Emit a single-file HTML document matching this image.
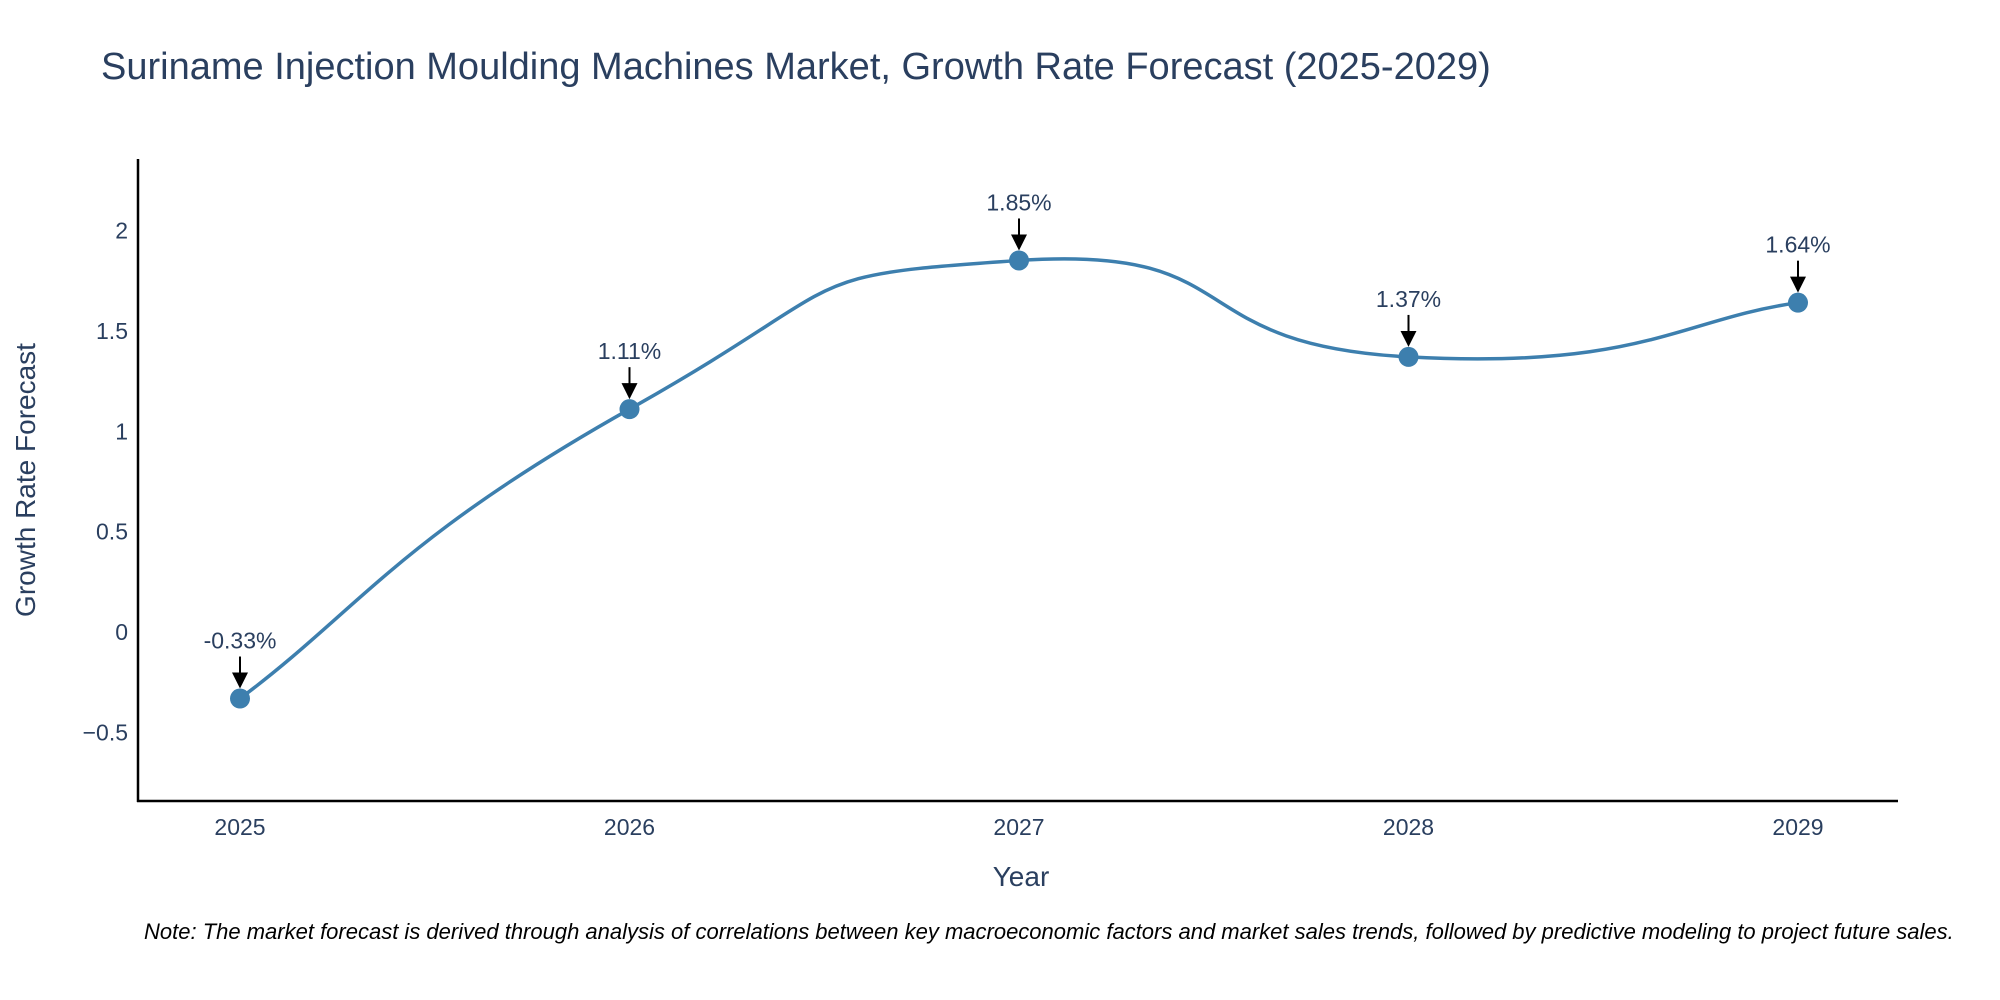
<!DOCTYPE html>
<html><head><meta charset="utf-8"><style>
body{margin:0;background:#fff;}
svg{display:block;font-family:"Liberation Sans",sans-serif;}
</style></head><body>
<svg id="chart" width="2000" height="1000" viewBox="0 0 2000 1000">
<text x="101" y="79" font-size="38" fill="#2a3f5f">Suriname Injection Moulding Machines Market, Growth Rate Forecast (2025-2029)</text>
<g id="yticks"></g><g id="xticks"></g>
<line x1="138" y1="159" x2="138" y2="802" stroke="#000" stroke-width="2.5"/>
<line x1="137" y1="801" x2="1898" y2="801" stroke="#000" stroke-width="2.5"/>
<g id="series"></g><g id="annots"></g>
<text x="1021" y="886" font-size="28" fill="#2a3f5f" text-anchor="middle">Year</text>
<text transform="translate(35,480) rotate(-90)" font-size="28" fill="#2a3f5f" text-anchor="middle">Growth Rate Forecast</text>
<text x="144" y="939" font-size="22" font-style="italic" fill="#000">Note: The market forecast is derived through analysis of correlations between key macroeconomic factors and market sales trends, followed by predictive modeling to project future sales.</text>
<defs><marker id="ah" markerWidth="8" markerHeight="8" refX="6" refY="4" orient="auto" markerUnits="strokeWidth"><path d="M0,0 L8,4 L0,8 z" fill="#000"/></marker></defs>
</svg>
<script>
const years=["2025","2026","2027","2028","2029"];
const values=[-0.33,1.11,1.85,1.37,1.64];
const labels=["-0.33%","1.11%","1.85%","1.37%","1.64%"];
const yTicks=[-0.5,0,0.5,1,1.5,2];
const yTickLabels=["\u22120.5","0","0.5","1","1.5","2"];
const NS="http://www.w3.org/2000/svg";
const x0=240,x1=1798,yMin=-0.84,yMax=2.355,plotTop=159,plotBot=801;
const X=i=>x0+(x1-x0)*i/(years.length-1);
const Y=v=>plotBot-(v-yMin)/(yMax-yMin)*(plotBot-plotTop);
function mk(tag,attrs,parent){const e=document.createElementNS(NS,tag);for(const k in attrs)e.setAttribute(k,attrs[k]);document.getElementById(parent).appendChild(e);return e;}
yTicks.forEach((t,i)=>{const e=mk("text",{x:128,y:Y(t)+8,"font-size":23,fill:"#2a3f5f","text-anchor":"end"},"yticks");e.textContent=yTickLabels[i];

});
years.forEach((yr,i)=>{const e=mk("text",{x:X(i),y:835,"font-size":23,fill:"#2a3f5f","text-anchor":"middle"},"xticks");e.textContent=yr;

});
const P=values.map((v,i)=>[X(i),Y(v)]);
let d=`M${P[0][0]},${P[0][1]}`;const s=0.3;
for(let i=0;i<P.length-1;i++){const p0=P[Math.max(0,i-1)],p1=P[i],p2=P[i+1],p3=P[Math.min(P.length-1,i+2)];
const c1=[p1[0]+(p2[0]-p0[0])*s,p1[1]+(p2[1]-p0[1])*s],c2=[p2[0]-(p3[0]-p1[0])*s,p2[1]-(p3[1]-p1[1])*s];
d+=` C${c1[0]},${c1[1]} ${c2[0]},${c2[1]} ${p2[0]},${p2[1]}`;}
const line=mk("path",{d:d,fill:"none",stroke:"#3d7fae","stroke-width":3.5},"series");


P.forEach((p,i)=>{const c=mk("circle",{cx:p[0],cy:p[1],r:10,fill:"#3d7fae"},"series");


const a=mk("line",{x1:p[0],y1:p[1]-42,x2:p[0],y2:p[1]-14,stroke:"#000","stroke-width":2,"marker-end":"url(#ah)"},"annots");


const t=mk("text",{x:p[0],y:p[1]-50,"font-size":23,fill:"#2a3f5f","text-anchor":"middle"},"annots");t.textContent=labels[i];

});
</script>
</body></html>
